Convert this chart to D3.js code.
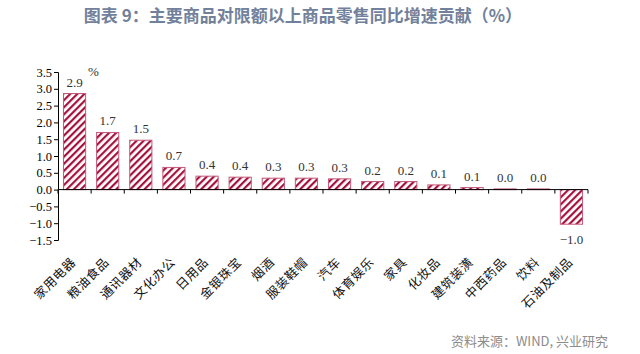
<!DOCTYPE html>
<html>
<head>
<meta charset="utf-8">
<script src="https://cdn.jsdelivr.net/npm/d3@7"></script>
<style>
  body { margin: 0; background: #fff; }
  svg { display: block; }
</style>
</head>
<body>
<div id="chart"></div>
<script>
// 主要商品对限额以上商品零售同比增速贡献（%）
const categories = ['家用电器', '粮油食品', '通讯器材', '文化办公', '日用品', '金银珠宝', '烟酒', '服装鞋帽',
  '汽车', '体育娱乐', '家具', '化妆品', '建筑装潢', '中西药品', '饮料', '石油及制品'];
const values = [2.86, 1.70, 1.47, 0.66, 0.40, 0.37, 0.34, 0.34, 0.32, 0.24, 0.24, 0.14, 0.06, 0.02, 0.02, -1.03];
const yTicks = [3.5, 3.0, 2.5, 2.0, 1.5, 1.0, 0.5, 0.0, -0.5, -1.0, -1.5];

const width = 640, height = 354;
const plot = { left: 58, right: 588, top: 72, bottom: 240 };
const serif = '"Liberation Serif", "Times New Roman", serif';
const cjk = '"Noto Sans CJK SC", sans-serif';

const svg = d3.select('#chart').append('svg')
  .attr('width', width)
  .attr('height', height);

const defs = svg.append('defs');
defs.append('pattern')
  .attr('id', 'hatch')
  .attr('patternUnits', 'userSpaceOnUse')
  .attr('width', 5)
  .attr('height', 5)
  .attr('patternTransform', 'rotate(45)')
  .append('rect')
  .attr('width', 2.2)
  .attr('height', 5)
  .attr('fill', '#a3123f');

const x = d3.scaleBand()
  .domain(categories)
  .range([plot.left, plot.right])
  .paddingInner(0.33)
  .paddingOuter(0.165);

const y = d3.scaleLinear()
  .domain([-1.5, 3.5])
  .range([plot.bottom, plot.top]);

// title
svg.append('text')
  .attr('x', 303)
  .attr('y', 22)
  .attr('text-anchor', 'middle')
  .attr('font-family', cjk)
  .attr('font-weight', 'bold')
  .attr('font-size', 17)
  .attr('fill', '#72819b')
  .text('图表 9：主要商品对限额以上商品零售同比增速贡献（%）');

// bars
svg.append('g')
  .selectAll('rect')
  .data(values)
  .join('rect')
  .attr('x', (d, i) => x(categories[i]))
  .attr('width', x.bandwidth())
  .attr('y', d => y(Math.max(0, d)))
  .attr('height', d => Math.abs(y(d) - y(0)))
  .attr('fill', 'url(#hatch)')
  .attr('stroke', '#c4587a')
  .attr('stroke-width', 1);

// value labels
const fmt = d3.format('.1f');
svg.append('g')
  .selectAll('text')
  .data(values)
  .join('text')
  .attr('x', (d, i) => x(categories[i]) + x.bandwidth() / 2)
  .attr('y', d => d >= 0 ? y(d) - 7 : y(d) + 20)
  .attr('text-anchor', 'middle')
  .attr('font-family', serif)
  .attr('font-size', 13)
  .attr('fill', '#333')
  .text(d => fmt(d));

// y axis
const yAxis = svg.append('g')
  .attr('transform', 'translate(' + plot.left + ',0)')
  .call(d3.axisLeft(y).tickValues(yTicks).tickFormat(fmt).tickSize(4).tickPadding(2));
yAxis.select('.domain').attr('stroke', '#000');
yAxis.selectAll('.tick line').attr('stroke', '#000');
yAxis.selectAll('.tick text')
  .attr('font-family', serif)
  .attr('font-size', 12.5)
  .attr('fill', '#000');

// x axis at zero
const xAxis = svg.append('g')
  .attr('transform', 'translate(0,' + y(0) + ')');
xAxis.append('line')
  .attr('x1', plot.left)
  .attr('x2', plot.right)
  .attr('stroke', '#000');
const step = x.step();
xAxis.selectAll('line.tick')
  .data(d3.range(categories.length + 1))
  .join('line')
  .attr('class', 'tick')
  .attr('x1', i => plot.left + i * step)
  .attr('x2', i => plot.left + i * step)
  .attr('y1', 0)
  .attr('y2', 4)
  .attr('stroke', '#000');

// category labels
svg.append('g')
  .selectAll('text')
  .data(categories)
  .join('text')
  .attr('transform', d => 'translate(' + (x(d) + x.bandwidth() / 2 + 2) + ',263) rotate(-45)')
  .attr('text-anchor', 'end')
  .attr('font-family', cjk)
  .attr('font-size', 12.5)
  .attr('letter-spacing', 0.6)
  .attr('fill', '#111')
  .text(d => d);

// unit
svg.append('text')
  .attr('x', 88)
  .attr('y', 76)
  .attr('font-family', serif)
  .attr('font-size', 13)
  .attr('fill', '#333')
  .text('%');

// source
svg.append('text')
  .attr('x', 608)
  .attr('y', 346)
  .attr('text-anchor', 'end')
  .attr('font-family', cjk)
  .attr('font-size', 13)
  .attr('fill', '#8c8c8c')
  .text('资料来源：WIND, 兴业研究');
</script>
</body>
</html>
